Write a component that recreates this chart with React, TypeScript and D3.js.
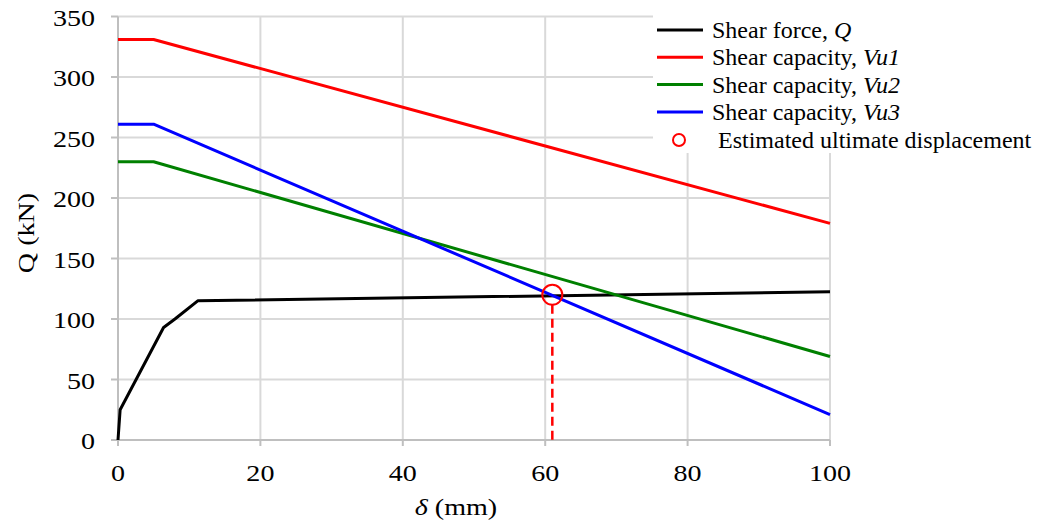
import React from "react";
import * as d3 from "d3";

// Shear force Q versus displacement δ
const qDelta = [0, 0.3, 6.4, 8.0, 11.2, 100];
const qForce = [0, 25, 93, 100, 115, 122.5];

// Shear capacity curves (flat up to δ = 5 mm, then linear degradation)
const capDelta = [0, 5, 100];
const vu1 = [331, 331, 179];
const vu2 = [230, 230, 69];
const vu3 = [261, 261, 21];

// Estimated ultimate displacement
const ultDelta = 61;
const ultForce = 120;

const xTicks = [0, 20, 40, 60, 80, 100];
const yTicks = [0, 50, 100, 150, 200, 250, 300, 350];

const W = 1047;
const H = 531;
const font = "'Liberation Serif', 'Times New Roman', serif";
const stretch = 1.17;

export default function App() {
  const x = d3.scaleLinear().domain([0, 100]).range([118, 830]);
  const y = d3.scaleLinear().domain([0, 350]).range([440, 16.5]);
  const line = d3
    .line<[number, number]>()
    .x((d) => x(d[0]))
    .y((d) => y(d[1]));

  const zip = (a: number[], b: number[]) =>
    a.map((v, i) => [v, b[i]] as [number, number]);

  const series = [
    { label: "Shear force, ", it: "Q", color: "#000000", data: zip(qDelta, qForce) },
    { label: "Shear capacity, ", it: "Vu1", color: "#ff0000", data: zip(capDelta, vu1) },
    { label: "Shear capacity, ", it: "Vu2", color: "#008000", data: zip(capDelta, vu2) },
    { label: "Shear capacity, ", it: "Vu3", color: "#0000ff", data: zip(capDelta, vu3) },
  ];

  const grid = "#d9d9d9";
  const axisC = "#bfbfbf";
  const r = 10;

  return (
    <svg
      width={W}
      height={H}
      style={{ position: "absolute", left: 0, top: 0, background: "#fff" }}
      fontFamily={font}
    >
      {/* grid */}
      {xTicks.slice(1).map((t) => (
        <line key={"gx" + t} x1={x(t)} x2={x(t)} y1={y(0)} y2={y(350)} stroke={grid} strokeWidth={2} />
      ))}
      {yTicks.slice(1).map((t) => (
        <line key={"gy" + t} x1={x(0)} x2={x(100)} y1={y(t)} y2={y(t)} stroke={grid} strokeWidth={2} />
      ))}
      {/* axes */}
      <line x1={x(0)} x2={x(0)} y1={y(0)} y2={y(350)} stroke={axisC} strokeWidth={2} />
      <line x1={x(0)} x2={x(100)} y1={y(0)} y2={y(0)} stroke={axisC} strokeWidth={2} />
      {yTicks.map((t) => (
        <line key={"ty" + t} x1={x(0) - 7} x2={x(0)} y1={y(t)} y2={y(t)} stroke={axisC} strokeWidth={2} />
      ))}
      {xTicks.map((t) => (
        <line key={"tx" + t} x1={x(t)} x2={x(t)} y1={y(0)} y2={y(0) + 6} stroke={axisC} strokeWidth={2} />
      ))}
      {yTicks.map((t) => (
        <text
          key={"ly" + t}
          transform={`translate(95,${y(t) + 9}) scale(${stretch},1)`}
          textAnchor="end"
          fontSize={24}
        >
          {t}
        </text>
      ))}
      {xTicks.map((t) => (
        <text
          key={"lx" + t}
          transform={`translate(${x(t)},481) scale(${stretch},1)`}
          textAnchor="middle"
          fontSize={24}
        >
          {t}
        </text>
      ))}
      <text transform={`translate(456,515) scale(${stretch},1)`} textAnchor="middle" fontSize={24}>
        <tspan fontStyle="italic">δ</tspan> (mm)
      </text>
      <text
        transform={`translate(34,233) rotate(-90) scale(${stretch},1)`}
        textAnchor="middle"
        fontSize={24}
      >
        Q (kN)
      </text>

      {/* legend box */}
      <rect x={653} y={8} width={394} height={145} fill="#fff" />

      {/* series */}
      {series.map((s) => (
        <path key={s.it} d={line(s.data) || ""} fill="none" stroke={s.color} strokeWidth={3} strokeLinejoin="round" />
      ))}

      {/* ultimate displacement marker */}
      <line
        x1={x(ultDelta)}
        x2={x(ultDelta)}
        y1={y(ultForce) + r}
        y2={y(0)}
        stroke="#ff0000"
        strokeWidth={2.5}
        strokeDasharray="9,5"
      />
      <circle cx={x(ultDelta)} cy={y(ultForce)} r={r} fill="none" stroke="#ff0000" strokeWidth={2} />

      {/* legend */}
      {series.map((s, i) => (
        <g key={"lg" + s.it} transform={`translate(0, ${30 + i * 27.3})`}>
          <line x1={657} x2={703} y1={0} y2={0} stroke={s.color} strokeWidth={3} />
          <text x={712} y={8} fontSize={24}>
            {s.label}
            <tspan fontStyle="italic">{s.it}</tspan>
          </text>
        </g>
      ))}
      <circle cx={679} cy={140} r={6} fill="none" stroke="#ff0000" strokeWidth={2} />
      <text x={718} y={148} fontSize={24}>
        Estimated ultimate displacement
      </text>
    </svg>
  );
}
